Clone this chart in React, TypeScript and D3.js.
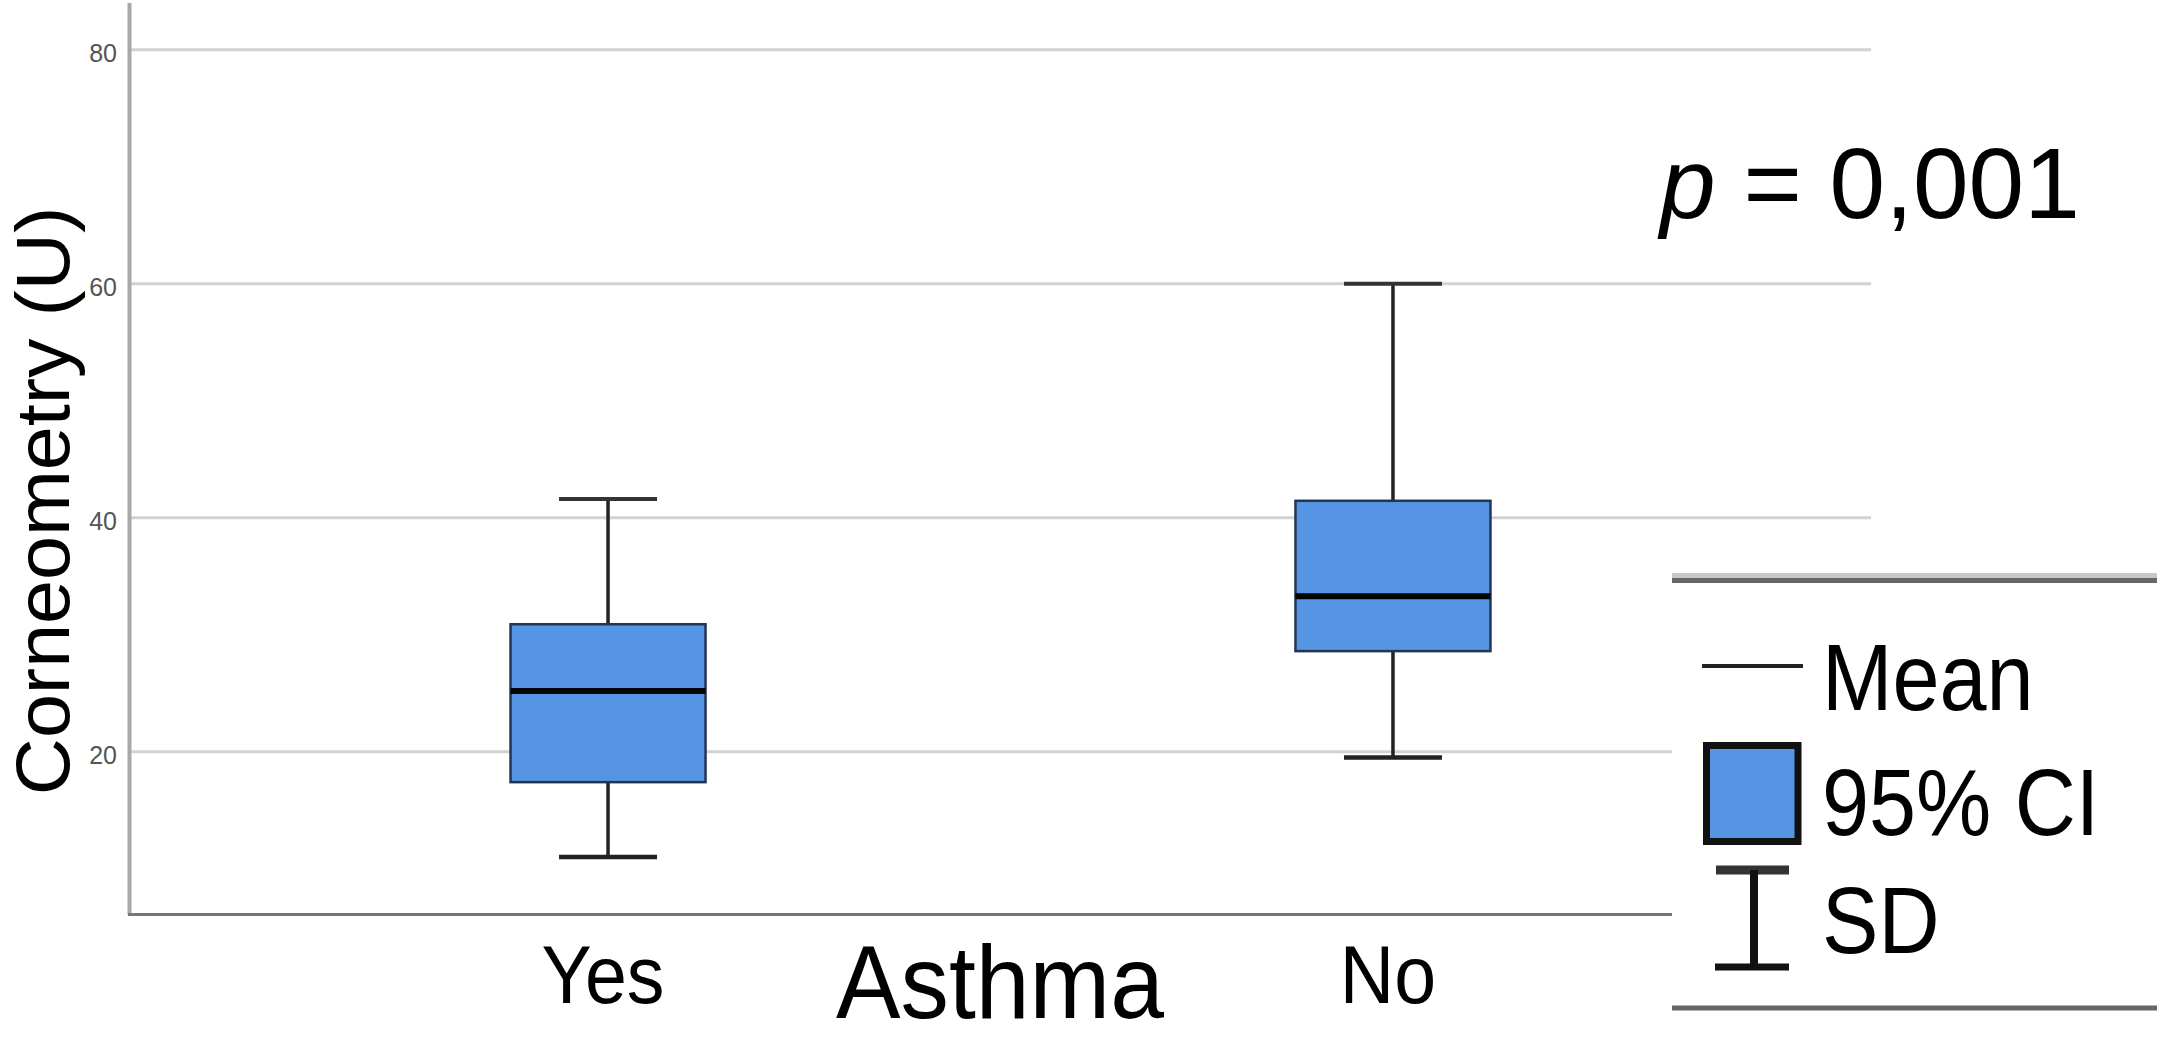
import React from "react";
import * as d3 from "d3";

const groups = ["Yes", "No"];
const means = [25.2, 33.3];
const ciLow = [17.4, 28.6];
const ciHigh = [30.9, 41.45];
const sdLow = [11.0, 19.5];
const sdHigh = [41.6, 60.0];
const yTicks = [20, 40, 60, 80];

const W = 2157;
const H = 1041;
const FONT = "'Liberation Sans', Arial, Helvetica, sans-serif";

export default function App() {
  const y = d3.scaleLinear().domain([6.13, 84]).range([914, 3]);
  const x = d3.scalePoint<string>().domain(groups).range([130, 1871]).padding(0.609);
  const boxW = 195;
  const capW = 98;
  const legX = 1672;

  return (
    <svg
      width={W}
      height={H}
      viewBox={`0 0 ${W} ${H}`}
      style={{ position: "absolute", left: 0, top: 0, background: "#fff" }}
    >
      <rect x={0} y={0} width={W} height={H} fill="#fff" />
      {/* gridlines */}
      {yTicks.map((t) => (
        <line key={"g" + t} x1={130} x2={1871} y1={y(t)} y2={y(t)} stroke="#d2d2d2" strokeWidth={3} />
      ))}
      {/* tick labels */}
      {yTicks.map((t) => (
        <text
          key={"t" + t}
          x={117}
          y={y(t) + 12}
          textAnchor="end"
          fontFamily={FONT}
          fontSize={25}
          fill="#555"
        >
          {t}
        </text>
      ))}
      {/* axes */}
      <line x1={129.5} x2={129.5} y1={3} y2={915} stroke="#a8a8a8" strokeWidth={4} />
      <line x1={128} x2={legX} y1={914.5} y2={914.5} stroke="#777" strokeWidth={3} />

      {/* boxes */}
      {groups.map((g, i) => {
        const cx = x(g) as number;
        return (
          <g key={g}>
            <line x1={cx} x2={cx} y1={y(sdHigh[i])} y2={y(ciHigh[i])} stroke="#222" strokeWidth={3.5} />
            <line x1={cx} x2={cx} y1={y(ciLow[i])} y2={y(sdLow[i])} stroke="#222" strokeWidth={3.5} />
            <line x1={cx - capW / 2} x2={cx + capW / 2} y1={y(sdHigh[i])} y2={y(sdHigh[i])} stroke="#333" strokeWidth={4} />
            <line x1={cx - capW / 2} x2={cx + capW / 2} y1={y(sdLow[i])} y2={y(sdLow[i])} stroke="#222" strokeWidth={4.5} />
            <rect
              x={cx - boxW / 2}
              y={y(ciHigh[i])}
              width={boxW}
              height={y(ciLow[i]) - y(ciHigh[i])}
              fill="#5595e4"
              stroke="#223554"
              strokeWidth={2.5}
            />
            <line x1={cx - boxW / 2} x2={cx + boxW / 2} y1={y(means[i])} y2={y(means[i])} stroke="#050505" strokeWidth={6} />
          </g>
        );
      })}

      {/* y axis title */}
      <text
        transform={`translate(69, 501) rotate(-90) scale(1.04, 1)`}
        textAnchor="middle"
        fontFamily={FONT}
        fontSize={76}
        fill="#000"
      >
        Corneometry (U)
      </text>

      {/* x tick labels */}
      {groups.map((g) => (
        <text
          key={"xl" + g}
          transform={`translate(${(x(g) as number) - 5}, 1003) scale(0.93, 1)`}
          textAnchor="middle"
          fontFamily={FONT}
          fontSize={81}
          fill="#000"
        >
          {g}
        </text>
      ))}
      {/* x axis title */}
      <text
        transform={`translate(1000, 1018) scale(0.93, 1)`}
        textAnchor="middle"
        fontFamily={FONT}
        fontSize={104}
        fill="#000"
      >
        Asthma
      </text>

      {/* p value */}
      <text x={1660} y={218} fontFamily={FONT} fontSize={100} fill="#000">
        <tspan fontStyle="italic">p</tspan>
        <tspan>{" = 0,001"}</tspan>
      </text>

      {/* legend */}
      <rect x={legX} y={573} width={W - legX} height={440} fill="#fff" />
      <line x1={legX} x2={W} y1={575.5} y2={575.5} stroke="#c8c8c8" strokeWidth={5} />
      <line x1={legX} x2={W} y1={580.5} y2={580.5} stroke="#666" strokeWidth={5} />
      <line x1={legX} x2={W} y1={1008} y2={1008} stroke="#666" strokeWidth={5} />

      <line x1={1702} x2={1803} y1={666} y2={666} stroke="#222" strokeWidth={4} />
      <rect x={1706.5} y={745.5} width={91.5} height={96} fill="#5595e4" stroke="#111" strokeWidth={7} />
      <line x1={1716} x2={1789} y1={870} y2={870} stroke="#333" strokeWidth={9} />
      <line x1={1754} x2={1754} y1={870} y2={967} stroke="#111" strokeWidth={8} />
      <line x1={1715} x2={1789} y1={967} y2={967} stroke="#111" strokeWidth={7} />

      {[
        { label: "Mean", yb: 710 },
        { label: "95% CI", yb: 835 },
        { label: "SD", yb: 953 },
      ].map((d) => (
        <text
          key={d.label}
          transform={`translate(1822, ${d.yb}) scale(0.89, 1)`}
          fontFamily={FONT}
          fontSize={95}
          fill="#000"
        >
          {d.label}
        </text>
      ))}
    </svg>
  );
}
